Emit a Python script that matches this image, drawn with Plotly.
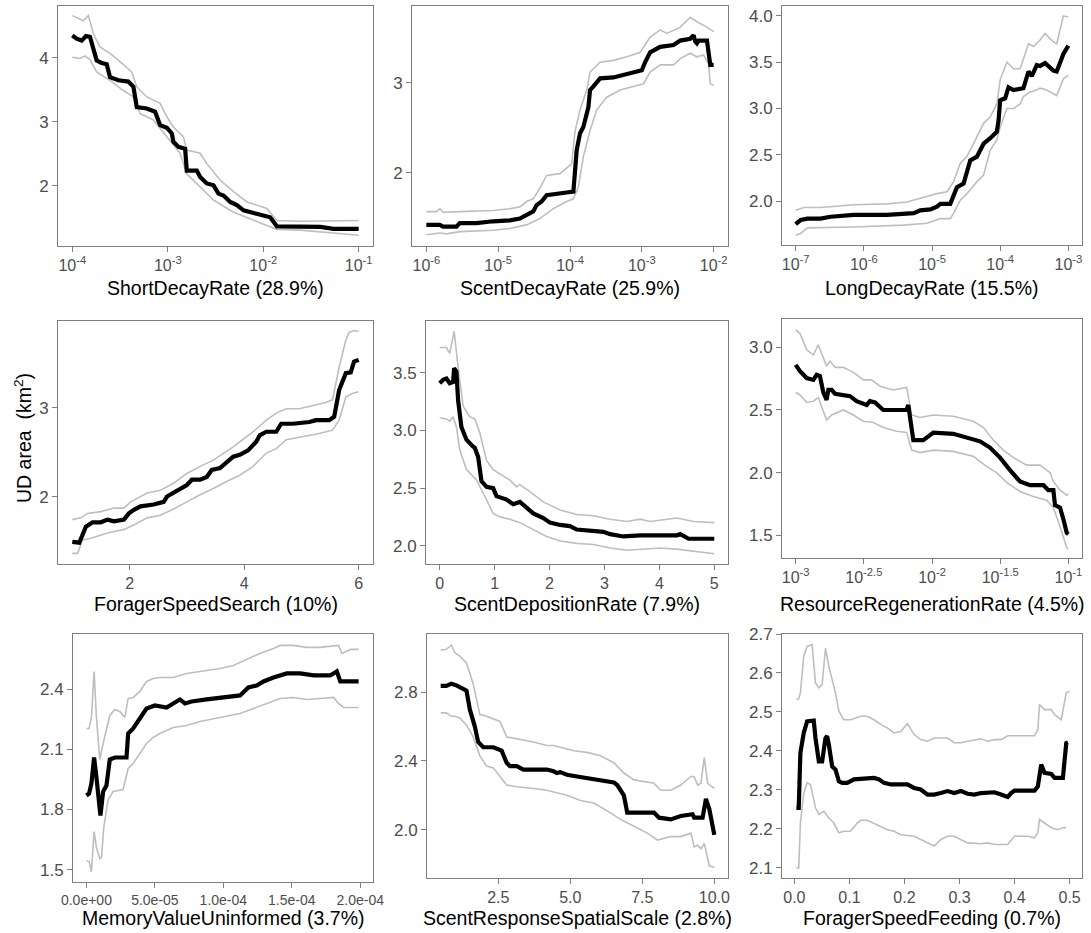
import plotly.graph_objects as go

# ---------------------------------------------------------------------------
# Partial-dependence curves of UD area (km^2) for nine model parameters.
# Each panel: mean response (black) and its lower / upper envelope (grey).
# Log-scaled parameters are stored as log10 exponents.
# ---------------------------------------------------------------------------

# ShortDecayRate (log10)
short_mean_x = [-4.000, -3.955, -3.902, -3.857, -3.815, -3.780, -3.745, -3.692, -3.640, -3.605,
                -3.517, -3.413, -3.360, -3.325, -3.220, -3.133, -3.080, -3.010, -2.958, -2.941,
                -2.888, -2.818, -2.801, -2.696, -2.661, -2.591, -2.521, -2.469, -2.416, -2.346,
                -2.276, -2.206, -2.101, -1.997, -1.927, -1.857, -1.612, -1.402, -1.262, -1.000]
short_mean_y = [4.35, 4.30, 4.27, 4.34, 4.33, 4.17, 3.96, 3.92, 3.90, 3.70,
                3.65, 3.63, 3.55, 3.23, 3.21, 3.16, 2.95, 2.91, 2.82, 2.69,
                2.61, 2.58, 2.24, 2.24, 2.14, 2.04, 2.01, 1.88, 1.85, 1.75,
                1.70, 1.62, 1.58, 1.53, 1.51, 1.37, 1.37, 1.36, 1.33, 1.33]
short_up_x = [-4.0, -3.885, -3.832, -3.780, -3.710, -3.605, -3.500, -3.378, -3.325, -3.220,
              -3.080, -3.010, -2.941, -2.836, -2.801, -2.661, -2.591, -2.451, -2.311, -2.171,
              -1.962, -1.857, -1.612, -1.262, -1.0]
short_up_y = [4.66, 4.58, 4.66, 4.38, 4.17, 4.07, 3.94, 3.78, 3.55, 3.39,
              3.29, 3.08, 2.92, 2.77, 2.56, 2.51, 2.35, 2.09, 1.91, 1.75,
              1.65, 1.46, 1.45, 1.45, 1.46]
short_lo_x = [-4.0, -3.920, -3.867, -3.815, -3.745, -3.605, -3.465, -3.360, -3.290, -3.150,
              -3.010, -2.871, -2.801, -2.661, -2.521, -2.311, -2.101, -1.857, -1.612, -1.262, -1.0]
short_lo_y = [4.01, 3.99, 4.03, 3.97, 3.78, 3.65, 3.49, 3.39, 3.13, 3.03,
              2.77, 2.51, 2.19, 1.98, 1.78, 1.59, 1.46, 1.32, 1.31, 1.26, 1.23]

# ScentDecayRate (log10)
scent_mean_x = [-6.000, -5.814, -5.767, -5.581, -5.535, -5.302, -5.070, -4.837, -4.698, -4.605,
                -4.512, -4.465, -4.395, -4.326, -4.186, -4.047, -3.953, -3.930, -3.907, -3.860,
                -3.814, -3.744, -3.721, -3.674, -3.581, -3.395, -3.256, -3.116, -3.000, -2.953,
                -2.884, -2.744, -2.558, -2.465, -2.326, -2.279, -2.256, -2.233, -2.209, -2.093,
                -2.070, -2.047, -2.000]
scent_mean_y = [1.42, 1.42, 1.40, 1.40, 1.44, 1.44, 1.46, 1.47, 1.49, 1.53,
                1.57, 1.64, 1.68, 1.75, 1.77, 1.78, 1.79, 1.99, 2.25, 2.44,
                2.51, 2.73, 2.92, 2.96, 3.05, 3.06, 3.09, 3.12, 3.14, 3.23,
                3.34, 3.40, 3.42, 3.47, 3.49, 3.53, 3.46, 3.44, 3.47, 3.47,
                3.36, 3.20, 3.20]
scent_up_x = [-6.0, -5.860, -5.814, -5.767, -5.535, -5.070, -4.837, -4.698, -4.605, -4.512,
              -4.419, -4.326, -4.140, -4.047, -3.977, -3.930, -3.860, -3.767, -3.721, -3.581,
              -3.395, -3.209, -3.023, -2.884, -2.744, -2.651, -2.465, -2.326, -2.233, -2.093, -2.000]
scent_up_y = [1.567, 1.567, 1.60, 1.56, 1.567, 1.58, 1.60, 1.62, 1.68, 1.71,
              1.83, 1.97, 1.99, 2.05, 2.10, 2.46, 2.70, 2.92, 3.12, 3.23,
              3.25, 3.29, 3.34, 3.51, 3.59, 3.55, 3.62, 3.73, 3.68, 3.62, 3.57]
scent_lo_x = [-6.0, -5.814, -5.721, -5.535, -5.070, -4.837, -4.605, -4.419, -4.233, -4.047,
              -3.953, -3.884, -3.814, -3.721, -3.628, -3.488, -3.302, -3.209, -3.070, -2.977,
              -2.884, -2.744, -2.558, -2.465, -2.326, -2.233, -2.140, -2.070, -2.047, -2.000]
scent_lo_y = [1.31, 1.33, 1.32, 1.345, 1.36, 1.38, 1.42, 1.49, 1.60, 1.68,
              1.71, 1.84, 2.18, 2.47, 2.70, 2.84, 2.92, 2.94, 2.97, 2.99,
              3.12, 3.20, 3.20, 3.27, 3.33, 3.29, 3.31, 3.21, 2.99, 2.97]

# LongDecayRate (log10)
long_mean_x = [-7.000, -6.927, -6.829, -6.634, -6.488, -6.146, -5.659, -5.268, -5.171, -5.024,
               -4.927, -4.878, -4.732, -4.683, -4.634, -4.537, -4.488, -4.439, -4.341, -4.244,
               -4.146, -4.049, -4.024, -4.000, -3.927, -3.878, -3.805, -3.659, -3.585, -3.537,
               -3.463, -3.415, -3.341, -3.220, -3.171, -3.073, -3.000]
long_mean_y = [1.75, 1.795, 1.81, 1.81, 1.83, 1.85, 1.85, 1.87, 1.90, 1.91,
               1.94, 1.97, 1.97, 2.06, 2.15, 2.19, 2.30, 2.44, 2.48, 2.62,
               2.68, 2.75, 2.87, 3.09, 3.11, 3.23, 3.20, 3.22, 3.40, 3.35,
               3.47, 3.46, 3.49, 3.41, 3.40, 3.59, 3.68]
long_up_x = [-7.0, -6.878, -6.634, -6.146, -5.659, -5.366, -5.171, -4.927, -4.780, -4.683,
             -4.585, -4.488, -4.390, -4.244, -4.146, -4.049, -4.0, -3.902, -3.805, -3.707,
             -3.585, -3.512, -3.415, -3.341, -3.220, -3.171, -3.073, -3.0]
long_up_y = [1.90, 1.93, 1.93, 1.96, 1.97, 1.99, 2.03, 2.08, 2.10, 2.21,
             2.41, 2.48, 2.62, 2.84, 2.91, 3.05, 3.31, 3.50, 3.43, 3.43,
             3.70, 3.67, 3.74, 3.81, 3.72, 3.70, 4.00, 3.99]
long_lo_x = [-7.0, -6.927, -6.829, -6.146, -5.415, -5.073, -4.878, -4.732, -4.683, -4.585,
             -4.488, -4.341, -4.244, -4.146, -4.049, -4.0, -3.902, -3.805, -3.707, -3.659,
             -3.561, -3.463, -3.415, -3.317, -3.220, -3.171, -3.073, -3.0]
long_lo_y = [1.63, 1.65, 1.71, 1.72, 1.74, 1.76, 1.81, 1.81, 1.87, 2.01,
             2.08, 2.21, 2.28, 2.55, 2.66, 2.80, 3.00, 3.00, 3.05, 3.13,
             3.18, 3.20, 3.22, 3.20, 3.16, 3.14, 3.32, 3.36]

# ForagerSpeedSearch
search_mean_x = [1.0, 1.121, 1.179, 1.237, 1.353, 1.497, 1.613, 1.728, 1.902, 1.988,
                 2.075, 2.191, 2.422, 2.595, 2.653, 2.769, 2.884, 3.0, 3.087, 3.231,
                 3.347, 3.434, 3.578, 3.694, 3.809, 3.925, 4.069, 4.214, 4.272, 4.387,
                 4.561, 4.647, 4.850, 5.139, 5.254, 5.486, 5.572, 5.659, 5.775, 5.861,
                 5.919, 6.0]
search_mean_y = [1.49, 1.48, 1.57, 1.66, 1.71, 1.71, 1.74, 1.72, 1.74, 1.81,
                 1.85, 1.89, 1.91, 1.94, 2.00, 2.04, 2.09, 2.13, 2.19, 2.19,
                 2.22, 2.30, 2.32, 2.39, 2.45, 2.47, 2.52, 2.62, 2.69, 2.73,
                 2.73, 2.82, 2.82, 2.84, 2.86, 2.86, 2.90, 3.20, 3.39, 3.40,
                 3.52, 3.54]
search_up_x = [1.0, 1.150, 1.266, 1.497, 1.728, 1.902, 2.017, 2.191, 2.306, 2.538,
               2.769, 3.0, 3.231, 3.462, 3.809, 4.156, 4.387, 4.561, 4.734, 4.965,
               5.254, 5.428, 5.543, 5.659, 5.775, 5.832, 5.919, 6.0]
search_up_y = [1.74, 1.76, 1.81, 1.83, 1.87, 1.87, 1.94, 2.00, 2.04, 2.07,
               2.15, 2.26, 2.34, 2.41, 2.56, 2.73, 2.86, 2.94, 2.99, 2.99,
               3.03, 3.06, 3.09, 3.46, 3.76, 3.85, 3.87, 3.86]
search_lo_x = [1.0, 1.092, 1.179, 1.324, 1.613, 1.902, 2.075, 2.306, 2.538, 2.769,
               3.0, 3.231, 3.462, 3.694, 3.925, 4.156, 4.387, 4.561, 4.734, 4.965,
               5.312, 5.543, 5.659, 5.775, 5.890, 6.0]
search_lo_y = [1.36, 1.36, 1.51, 1.53, 1.59, 1.63, 1.68, 1.76, 1.79, 1.86,
               1.94, 2.02, 2.09, 2.17, 2.24, 2.34, 2.49, 2.54, 2.64, 2.67,
               2.71, 2.75, 2.86, 3.12, 3.16, 3.18]

# ScentDepositionRate
depo_mean_x = [0.0, 0.061, 0.122, 0.182, 0.243, 0.262, 0.304, 0.335, 0.395, 0.487,
               0.608, 0.639, 0.700, 0.760, 0.852, 0.973, 1.034, 1.217, 1.338, 1.460,
               1.582, 1.703, 1.886, 2.007, 2.190, 2.372, 2.494, 2.798, 2.981, 3.102,
               3.345, 3.650, 4.015, 4.319, 4.380, 4.532, 5.0]
depo_mean_y = [3.41, 3.44, 3.45, 3.41, 3.42, 3.54, 3.51, 3.26, 3.03, 2.92,
               2.86, 2.85, 2.77, 2.56, 2.51, 2.50, 2.43, 2.40, 2.36, 2.38,
               2.33, 2.28, 2.24, 2.20, 2.18, 2.17, 2.14, 2.13, 2.12, 2.10,
               2.08, 2.09, 2.09, 2.09, 2.10, 2.06, 2.06]
depo_up_x = [0.0, 0.122, 0.182, 0.262, 0.335, 0.426, 0.547, 0.639, 0.730, 0.852,
             0.973, 1.156, 1.277, 1.399, 1.460, 1.642, 1.886, 2.190, 2.494, 2.798,
             3.102, 3.406, 3.650, 3.832, 4.319, 4.623, 5.0]
depo_up_y = [3.72, 3.72, 3.67, 3.86, 3.55, 3.21, 3.12, 3.10, 2.98, 2.74,
             2.66, 2.61, 2.57, 2.51, 2.53, 2.47, 2.38, 2.31, 2.27, 2.26,
             2.23, 2.21, 2.23, 2.21, 2.24, 2.21, 2.20]
depo_lo_x = [0.0, 0.122, 0.182, 0.243, 0.304, 0.365, 0.487, 0.669, 0.852, 0.973,
             1.095, 1.277, 1.460, 1.703, 1.946, 2.190, 2.494, 2.798, 3.102, 3.406,
             3.710, 4.015, 4.319, 4.623, 5.0]
depo_lo_y = [3.11, 3.10, 3.08, 3.12, 3.03, 2.83, 2.66, 2.57, 2.40, 2.28,
             2.25, 2.23, 2.20, 2.14, 2.08, 2.04, 2.02, 2.01, 1.98, 1.96,
             1.97, 1.98, 1.97, 1.95, 1.93]

# ResourceRegenerationRate (log10)
regen_mean_x = [-3.0, -2.968, -2.919, -2.870, -2.846, -2.822, -2.797, -2.773, -2.760, -2.736,
                -2.711, -2.650, -2.601, -2.553, -2.479, -2.455, -2.418, -2.357, -2.284, -2.186,
                -2.174, -2.149, -2.137, -2.064, -1.990, -1.844, -1.746, -1.648, -1.575, -1.501,
                -1.428, -1.355, -1.281, -1.183, -1.147, -1.110, -1.098, -1.061, -1.037, -1.012, -1.0]
regen_mean_y = [2.86, 2.81, 2.755, 2.74, 2.78, 2.77, 2.64, 2.58, 2.66, 2.66,
                2.63, 2.62, 2.61, 2.57, 2.54, 2.57, 2.56, 2.50, 2.50, 2.50,
                2.54, 2.32, 2.26, 2.26, 2.32, 2.31, 2.28, 2.25, 2.20, 2.12,
                2.02, 1.93, 1.90, 1.90, 1.86, 1.86, 1.74, 1.72, 1.63, 1.52, 1.51]
regen_up_x = [-3.0, -2.968, -2.919, -2.870, -2.834, -2.809, -2.773, -2.748, -2.711, -2.650,
              -2.577, -2.504, -2.443, -2.381, -2.284, -2.186, -2.149, -2.088, -1.990, -1.844,
              -1.697, -1.623, -1.550, -1.477, -1.403, -1.306, -1.208, -1.134, -1.110, -1.061,
              -1.012, -1.0]
regen_up_y = [3.14, 3.11, 2.98, 2.94, 3.02, 2.95, 2.85, 2.89, 2.84, 2.84,
              2.80, 2.74, 2.74, 2.69, 2.66, 2.68, 2.46, 2.44, 2.46, 2.45,
              2.41, 2.36, 2.26, 2.18, 2.12, 2.06, 2.06, 2.00, 1.93, 1.86,
              1.82, 1.83]
regen_lo_x = [-3.0, -2.968, -2.919, -2.870, -2.834, -2.809, -2.773, -2.736, -2.650, -2.577,
              -2.504, -2.430, -2.357, -2.259, -2.186, -2.149, -2.088, -1.990, -1.844, -1.697,
              -1.601, -1.526, -1.452, -1.355, -1.257, -1.159, -1.110, -1.061, -1.012, -1.0]
regen_lo_y = [2.64, 2.62, 2.56, 2.57, 2.60, 2.53, 2.42, 2.46, 2.50, 2.46,
              2.41, 2.40, 2.36, 2.33, 2.32, 2.18, 2.16, 2.18, 2.17, 2.13,
              2.05, 2.00, 1.92, 1.85, 1.81, 1.78, 1.72, 1.57, 1.40, 1.39]

# MemoryValueUninformed
memory_mean_x = [0.0, 0.195e-5, 0.366e-5, 0.561e-5, 0.732e-5, 0.927e-5, 1.024e-5, 1.220e-5, 1.463e-5, 1.707e-5,
                 2.073e-5, 2.927e-5, 3.049e-5, 3.415e-5, 3.902e-5, 4.390e-5, 5.0e-5, 5.854e-5, 6.341e-5, 6.829e-5,
                 7.195e-5, 7.683e-5, 8.780e-5, 9.756e-5, 11.22e-5, 11.83e-5, 12.44e-5, 12.93e-5, 13.66e-5, 14.63e-5,
                 15.61e-5, 16.59e-5, 17.80e-5, 18.29e-5, 18.54e-5, 19.27e-5, 19.88e-5]
memory_mean_y = [1.87, 1.88, 1.93, 2.06, 1.96, 1.81, 1.77, 1.89, 1.92, 2.05,
                 2.06, 2.06, 2.18, 2.205, 2.26, 2.305, 2.32, 2.31, 2.33, 2.35,
                 2.33, 2.34, 2.35, 2.36, 2.37, 2.41, 2.42, 2.44, 2.46, 2.48,
                 2.48, 2.47, 2.47, 2.49, 2.44, 2.44, 2.44]
memory_up_x = [0.0, 0.195e-5, 0.366e-5, 0.561e-5, 0.732e-5, 0.976e-5, 1.220e-5, 1.463e-5, 1.707e-5, 2.073e-5,
               2.439e-5, 2.805e-5, 3.049e-5, 3.415e-5, 3.902e-5, 4.390e-5, 4.878e-5, 5.366e-5, 6.341e-5, 7.317e-5,
               8.293e-5, 9.756e-5, 10.73e-5, 11.71e-5, 12.68e-5, 13.66e-5, 14.15e-5, 15.12e-5, 16.10e-5, 17.07e-5,
               18.05e-5, 18.41e-5, 18.66e-5, 19.27e-5, 19.88e-5]
memory_up_y = [2.205, 2.205, 2.26, 2.49, 2.26, 2.05, 2.13, 2.20, 2.27, 2.30,
               2.29, 2.26, 2.355, 2.36, 2.39, 2.44, 2.455, 2.46, 2.46, 2.48,
               2.49, 2.505, 2.52, 2.55, 2.58, 2.605, 2.62, 2.62, 2.61, 2.61,
               2.62, 2.62, 2.58, 2.60, 2.60]
memory_lo_x = [0.0, 0.195e-5, 0.366e-5, 0.561e-5, 0.732e-5, 0.976e-5, 1.098e-5, 1.268e-5, 1.585e-5, 1.951e-5,
               2.683e-5, 3.049e-5, 3.415e-5, 3.902e-5, 4.390e-5, 4.878e-5, 5.366e-5, 6.341e-5, 7.317e-5, 8.293e-5,
               9.756e-5, 11.22e-5, 12.20e-5, 13.17e-5, 14.15e-5, 15.12e-5, 16.10e-5, 17.07e-5, 18.05e-5, 18.41e-5,
               18.78e-5, 19.88e-5]
memory_lo_y = [1.543, 1.54, 1.49, 1.69, 1.61, 1.555, 1.56, 1.71, 1.85, 1.89,
               1.90, 2.005, 2.03, 2.08, 2.13, 2.16, 2.18, 2.21, 2.22, 2.24,
               2.26, 2.28, 2.305, 2.33, 2.355, 2.36, 2.35, 2.355, 2.36, 2.33,
               2.31, 2.31]

# ScentResponseSpatialScale
spatial_mean_x = [0.5, 0.698, 0.872, 1.047, 1.279, 1.395, 1.512, 1.686, 1.802, 1.977,
                  2.326, 2.5, 2.616, 2.791, 2.907, 3.140, 3.372, 3.721, 4.186, 4.419,
                  4.535, 4.651, 4.884, 5.233, 5.581, 5.814, 6.163, 6.512, 6.628, 6.860,
                  6.977, 7.326, 7.907, 8.081, 8.488, 8.837, 9.244, 9.302, 9.593, 9.709,
                  9.826, 10.0]
spatial_mean_y = [2.837, 2.837, 2.85, 2.84, 2.82, 2.81, 2.70, 2.60, 2.51, 2.48,
                  2.48, 2.47, 2.46, 2.39, 2.37, 2.37, 2.35, 2.35, 2.35, 2.34,
                  2.33, 2.335, 2.32, 2.31, 2.30, 2.29, 2.28, 2.275, 2.26, 2.20,
                  2.10, 2.10, 2.10, 2.07, 2.06, 2.08, 2.09, 2.07, 2.07, 2.18,
                  2.12, 1.97]
spatial_up_x = [0.5, 0.698, 0.872, 0.988, 1.163, 1.395, 1.628, 1.860, 2.093, 2.558,
                2.791, 3.140, 3.721, 4.186, 4.419, 4.651, 5.116, 5.581, 6.047, 6.512,
                6.860, 7.209, 7.558, 7.907, 8.140, 8.488, 8.837, 9.186, 9.302, 9.419,
                9.535, 9.651, 9.767, 10.0]
spatial_up_y = [3.046, 3.05, 3.075, 3.03, 3.01, 2.97, 2.85, 2.67, 2.66, 2.63,
                2.54, 2.53, 2.51, 2.49, 2.49, 2.48, 2.46, 2.45, 2.43, 2.39,
                2.33, 2.29, 2.28, 2.27, 2.23, 2.23, 2.26, 2.31, 2.31, 2.26,
                2.27, 2.42, 2.27, 2.24]
spatial_lo_x = [0.5, 0.698, 0.872, 0.988, 1.163, 1.395, 1.628, 1.860, 2.093, 2.326,
                2.791, 3.140, 3.721, 4.186, 4.419, 4.884, 5.349, 5.814, 6.279, 6.744,
                7.209, 7.674, 8.023, 8.488, 8.837, 9.186, 9.302, 9.419, 9.535, 9.651,
                9.826, 10.0]
spatial_lo_y = [2.68, 2.68, 2.66, 2.66, 2.65, 2.61, 2.54, 2.43, 2.37, 2.36,
                2.26, 2.25, 2.24, 2.23, 2.22, 2.20, 2.17, 2.155, 2.11, 2.06,
                2.02, 1.98, 1.94, 1.96, 1.96, 1.98, 1.90, 1.91, 1.89, 1.92,
                1.79, 1.78]

# ForagerSpeedFeeding
feed_mean_x = [0.0036, 0.0079, 0.0109, 0.0170, 0.0231, 0.0352, 0.0383, 0.0444, 0.0474, 0.0504,
               0.0565, 0.0595, 0.0626, 0.0687, 0.0747, 0.0808, 0.0869, 0.0960, 0.1081, 0.1203,
               0.1324, 0.1446, 0.1537, 0.1628, 0.1750, 0.1932, 0.2053, 0.2175, 0.2296, 0.2418,
               0.2540, 0.2661, 0.2783, 0.2904, 0.3026, 0.3147, 0.3269, 0.3390, 0.3512, 0.3633,
               0.3755, 0.3876, 0.3937, 0.3998, 0.4119, 0.4362, 0.4423, 0.4484, 0.4544, 0.4666,
               0.4727, 0.4878, 0.4939, 0.4970]
feed_mean_y = [2.254, 2.254, 2.395, 2.446, 2.476, 2.478, 2.433, 2.373, 2.373, 2.373,
               2.433, 2.438, 2.416, 2.360, 2.352, 2.322, 2.318, 2.318, 2.327, 2.328,
               2.331, 2.331, 2.327, 2.318, 2.314, 2.314, 2.314, 2.305, 2.301, 2.288,
               2.288, 2.292, 2.297, 2.292, 2.297, 2.290, 2.288, 2.292, 2.292, 2.294,
               2.288, 2.282, 2.292, 2.298, 2.298, 2.298, 2.309, 2.365, 2.344, 2.341,
               2.331, 2.331, 2.420, 2.422]
feed_up_x = [0.0036, 0.0079, 0.0109, 0.0170, 0.0231, 0.0322, 0.0383, 0.0444, 0.0504, 0.0565,
             0.0626, 0.0687, 0.0747, 0.0808, 0.0899, 0.1021, 0.1203, 0.1324, 0.1446, 0.1567,
             0.1689, 0.1810, 0.1932, 0.2053, 0.2175, 0.2296, 0.2418, 0.2540, 0.2783, 0.2904,
             0.3026, 0.3147, 0.3269, 0.3390, 0.3512, 0.3633, 0.3755, 0.3876, 0.4119, 0.4362,
             0.4423, 0.4453, 0.4544, 0.4666, 0.4727, 0.4848, 0.4939, 0.5]
feed_up_y = [2.532, 2.534, 2.549, 2.643, 2.668, 2.673, 2.574, 2.562, 2.570, 2.664,
             2.617, 2.583, 2.549, 2.502, 2.480, 2.480, 2.489, 2.489, 2.480, 2.468,
             2.459, 2.446, 2.450, 2.470, 2.442, 2.429, 2.425, 2.433, 2.433, 2.421,
             2.421, 2.425, 2.429, 2.431, 2.425, 2.429, 2.429, 2.439, 2.439, 2.439,
             2.455, 2.519, 2.506, 2.506, 2.493, 2.480, 2.549, 2.553]
feed_lo_x = [0.0036, 0.0079, 0.0109, 0.0170, 0.0231, 0.0292, 0.0383, 0.0444, 0.0535, 0.0626,
             0.0717, 0.0808, 0.0899, 0.1021, 0.1142, 0.1203, 0.1324, 0.1446, 0.1567, 0.1689,
             0.1810, 0.1932, 0.2175, 0.2296, 0.2418, 0.2540, 0.2661, 0.2783, 0.2904, 0.3026,
             0.3147, 0.3390, 0.3512, 0.3633, 0.3876, 0.3998, 0.4241, 0.4362, 0.4423, 0.4453,
             0.4544, 0.4666, 0.4787, 0.4878, 0.4939]
feed_lo_y = [2.100, 2.100, 2.215, 2.292, 2.318, 2.314, 2.254, 2.237, 2.245, 2.228,
             2.215, 2.190, 2.194, 2.194, 2.215, 2.222, 2.222, 2.214, 2.205, 2.198,
             2.194, 2.185, 2.181, 2.173, 2.164, 2.156, 2.173, 2.181, 2.181, 2.173,
             2.164, 2.162, 2.164, 2.160, 2.160, 2.181, 2.181, 2.177, 2.190, 2.224,
             2.215, 2.203, 2.198, 2.203, 2.203]

# Axis titles (parameter name and relative importance)
panel_titles = ["ShortDecayRate (28.9%)", "ScentDecayRate (25.9%)", "LongDecayRate (15.5%)",
                "ForagerSpeedSearch (10%)", "ScentDepositionRate (7.9%)", "ResourceRegenerationRate (4.5%)",
                "MemoryValueUninformed (3.7%)", "ScentResponseSpatialScale (2.8%)", "ForagerSpeedFeeding (0.7%)"]
y_title = "UD area\u00a0 (km<sup>2</sup>)"

# Tick definitions
log_ticks_short = [-4, -3, -2, -1]
log_ticks_scent = [-6, -5, -4, -3, -2]
log_ticks_long = [-7, -6, -5, -4, -3]
log_ticks_regen = [-3, -2.5, -2, -1.5, -1]
memory_tickvals = [0.0, 5e-5, 1e-4, 1.5e-4, 2e-4]
memory_ticktext = ["0.0e+00", "5.0e-05", "1.0e-04", "1.5e-04", "2.0e-04"]

# ---------------------------------------------------------------------------
W, H = 1091, 933
FONT = "Liberation Sans, Arial, Helvetica, sans-serif"
TICK_GREY = "#4d4d4d"
BORDER = "#7f7f7f"
BAND = "#bebebe"

# pixel boxes (left, right, top, bottom) of the nine panels
boxes = [
    (58, 373, 6, 246), (412, 728, 6, 246), (782, 1082, 6, 245),
    (58, 373, 321, 564), (426, 728, 321, 564), (782, 1082, 319, 558),
    (73, 373, 634, 882), (427, 728, 634, 878), (782, 1082, 634, 878),
]
title_y = [288, 288, 288, 604, 604, 604, 918, 918, 918]

panels = [
    dict(log=True, mx=short_mean_x, my=short_mean_y, ux=short_up_x, uy=short_up_y, lx=short_lo_x, ly=short_lo_y,
         xr=[-4.15, -0.85], yr=[1.0625, 4.81], xt=log_ticks_short, yt=[2, 3, 4], yf=""),
    dict(log=True, mx=scent_mean_x, my=scent_mean_y, ux=scent_up_x, uy=scent_up_y, lx=scent_lo_x, ly=scent_lo_y,
         xr=[-6.2, -1.8], yr=[1.185, 3.855], xt=log_ticks_scent, yt=[2, 3], yf=""),
    dict(log=True, mx=long_mean_x, my=long_mean_y, ux=long_up_x, uy=long_up_y, lx=long_lo_x, ly=long_lo_y,
         xr=[-7.2, -2.8], yr=[1.525, 4.108], xt=log_ticks_long, yt=[2.0, 2.5, 3.0, 3.5, 4.0], yf=".1f"),
    dict(log=False, mx=search_mean_x, my=search_mean_y, ux=search_up_x, uy=search_up_y, lx=search_lo_x, ly=search_lo_y,
         xr=[0.75, 6.25], yr=[1.24, 3.978], xt=[2, 4, 6], xtt=None, yt=[2, 3], yf=""),
    dict(log=False, mx=depo_mean_x, my=depo_mean_y, ux=depo_up_x, uy=depo_up_y, lx=depo_lo_x, ly=depo_lo_y,
         xr=[-0.25, 5.25], yr=[1.841, 3.95], xt=[0, 1, 2, 3, 4, 5], xtt=None, yt=[2.0, 2.5, 3.0, 3.5], yf=".1f"),
    dict(log=True, mx=regen_mean_x, my=regen_mean_y, ux=regen_up_x, uy=regen_up_y, lx=regen_lo_x, ly=regen_lo_y,
         xr=[-3.1, -0.9], yr=[1.319, 3.226], xt=log_ticks_regen, yt=[1.5, 2.0, 2.5, 3.0], yf=".1f"),
    dict(log=False, mx=memory_mean_x, my=memory_mean_y, ux=memory_up_x, uy=memory_up_y, lx=memory_lo_x, ly=memory_lo_y,
         xr=[-0.98e-5, 20.93e-5], yr=[1.438, 2.677], xt=memory_tickvals, xtt=memory_ticktext,
         yt=[1.5, 1.8, 2.1, 2.4], yf=".1f", small=True),
    dict(log=False, mx=spatial_mean_x, my=spatial_mean_y, ux=spatial_up_x, uy=spatial_up_y, lx=spatial_lo_x, ly=spatial_lo_y,
         xr=[0.025, 10.475], yr=[1.719, 3.139], xt=[2.5, 5.0, 7.5, 10.0], xtt=["2.5", "5.0", "7.5", "10.0"],
         yt=[2.0, 2.4, 2.8], yf=".1f"),
    dict(log=False, mx=feed_mean_x, my=feed_mean_y, ux=feed_up_x, uy=feed_up_y, lx=feed_lo_x, ly=feed_lo_y,
         xr=[-0.0225, 0.5225], yr=[2.074, 2.70], xt=[0.0, 0.1, 0.2, 0.3, 0.4, 0.5],
         xtt=["0.0", "0.1", "0.2", "0.3", "0.4", "0.5"], yt=[2.1, 2.2, 2.3, 2.4, 2.5, 2.6, 2.7], yf=".1f"),
]


def exp_label(v):
    return "10<sup>%g</sup>" % v


fig = go.Figure()
layout = dict(
    width=W, height=H, autosize=False,
    margin=dict(l=0, r=0, t=0, b=0, pad=0),
    paper_bgcolor="white", plot_bgcolor="white",
    showlegend=False,
    font=dict(family=FONT, color=TICK_GREY),
)
annotations = []

for i, p in enumerate(panels):
    n = i + 1
    xa = "x" if n == 1 else "x%d" % n
    ya = "y" if n == 1 else "y%d" % n
    if p["log"]:
        conv = lambda arr: [10 ** v for v in arr]
    else:
        conv = lambda arr: list(arr)
    for xs, ys, col, wd in ((p["ux"], p["uy"], BAND, 1.6),
                            (p["lx"], p["ly"], BAND, 1.6),
                            (p["mx"], p["my"], "black", 4.2)):
        fig.add_trace(go.Scatter(x=conv(xs), y=ys, mode="lines", xaxis=xa, yaxis=ya,
                                 line=dict(color=col, width=wd), hoverinfo="skip"))

    l, r, t, b = boxes[i]
    xdom = [l / W, r / W]
    ydom = [1 - b / H, 1 - t / H]
    common = dict(showgrid=False, zeroline=False, showline=True, mirror=True,
                  linecolor=BORDER, linewidth=1, ticks="outside", ticklen=5,
                  tickcolor=BORDER, tickwidth=1, automargin=False)
    if p["log"]:
        xaxis = dict(type="log", range=p["xr"], tickmode="array",
                     tickvals=[10 ** v for v in p["xt"]],
                     ticktext=[exp_label(v) for v in p["xt"]],
                     tickfont=dict(size=16, color=TICK_GREY, family=FONT), **common)
    else:
        xaxis = dict(range=p["xr"], tickmode="array", tickvals=p["xt"],
                     tickfont=dict(size=14 if p.get("small") else 16, color=TICK_GREY, family=FONT),
                     **common)
        if p.get("xtt"):
            xaxis["ticktext"] = p["xtt"]
    xaxis.update(domain=xdom, anchor=ya)
    yaxis = dict(range=p["yr"], tickmode="array", tickvals=p["yt"],
                 ticktext=[format(v, p["yf"]) if p["yf"] else str(v) for v in p["yt"]],
                 tickfont=dict(size=17, color=TICK_GREY, family=FONT),
                 domain=ydom, anchor=xa, **common)
    layout["xaxis" if n == 1 else "xaxis%d" % n] = xaxis
    layout["yaxis" if n == 1 else "yaxis%d" % n] = yaxis

    annotations.append(dict(text=panel_titles[i], x=(l + r) / 2 / W, y=1 - title_y[i] / H,
                            xref="paper", yref="paper", xanchor="center", yanchor="middle",
                            showarrow=False, font=dict(size=19.5, color="black", family=FONT)))

annotations.append(dict(text=y_title, x=23 / W, y=1 - 438 / H, xref="paper", yref="paper",
                        xanchor="center", yanchor="middle", textangle=-90, showarrow=False,
                        font=dict(size=19.5, color="black", family=FONT)))
layout["annotations"] = annotations
fig.update_layout(**layout)

fig.write_html("out.html")
